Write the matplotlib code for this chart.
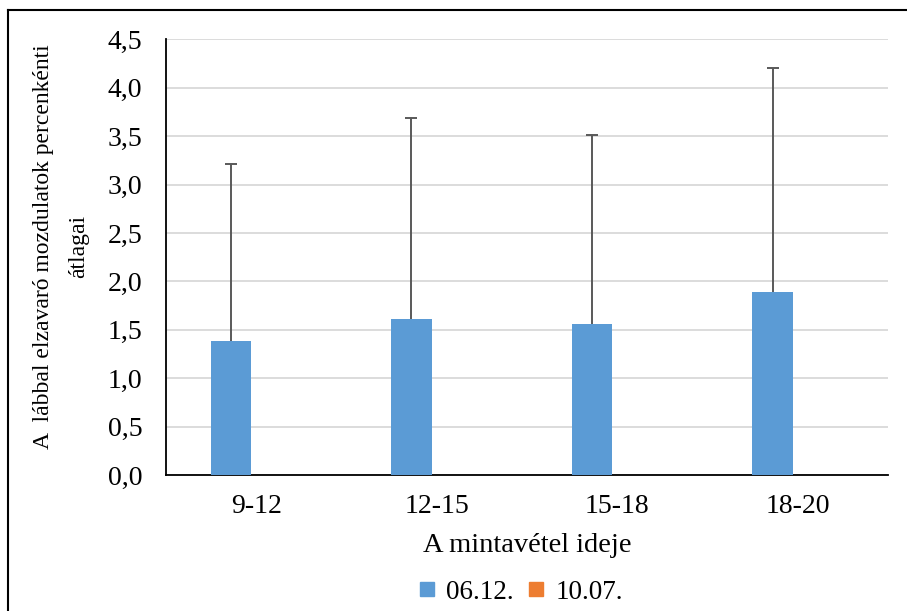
import numpy as np
import matplotlib.pyplot as plt
from matplotlib.lines import Line2D

plt.rcParams['font.family'] = ['Liberation Serif', 'DejaVu Serif']

# adatok
kategoriak = ['9-12', '12-15', '15-18', '18-20']
atlag_0612 = np.array([1.38, 1.615, 1.56, 1.888])
hiba_0612 = np.array([1.83, 2.075, 1.955, 2.32])
atlag_1007 = np.array([0, 0, 0, 0])
sorozatok = ['06.12.', '10.07.']

kek = '#5B9BD5'
narancs = '#ED7D31'

fig = plt.figure(figsize=(9.07, 6.11), dpi=100)
ax = fig.add_axes([0.183, 0.2226, 0.7961, 0.7128])

x = np.arange(len(kategoriak))
w = 0.222
ax.bar(x - 0.14, atlag_0612, width=w, color=kek, label=sorozatok[0], zorder=3)
# csak felfelé mutató hibasáv
ax.vlines(x - 0.14, atlag_0612, atlag_0612 + hiba_0612, color='#595959', linewidth=1.4, zorder=4)
ax.plot(x - 0.14, atlag_0612 + hiba_0612, linestyle='none', marker='_', markersize=9,
        markeredgewidth=1.4, color='#595959', zorder=4)
ax.bar(x + 0.11, atlag_1007, width=w, color=narancs, label=sorozatok[1], zorder=3)

ax.set_xlim(-0.5, 3.5)
ax.set_ylim(0, 4.5)
ax.set_yticks(np.arange(0, 4.51, 0.5))
ax.set_yticklabels([f'{v:.1f}'.replace('.', ',') for v in np.arange(0, 4.51, 0.5)])
ax.set_xticks(x)
ax.set_xticklabels(kategoriak)
ax.tick_params(axis='both', length=0, labelsize=20)
ax.tick_params(axis='y', pad=17)
ax.tick_params(axis='x', pad=14)
ax.grid(axis='y', color='#d9d9d9', linewidth=1.3, zorder=0)

for s in ['top', 'right']:
    ax.spines[s].set_visible(False)
ax.spines['left'].set_linewidth(1.3)
ax.spines['bottom'].set_linewidth(1.3)

ax.set_xlabel('A mintavétel ideje', fontsize=20.5, labelpad=10)
fig.text(0.067, 0.597, 'A  lábbal elzavaró mozdulatok percenkénti\nátlagai',
         rotation=90, ha='center', va='center', fontsize=17, linespacing=1.9)

handles = [Line2D([], [], marker='s', color='none', markerfacecolor=kek, markeredgecolor=kek, markersize=10),
           Line2D([], [], marker='s', color='none', markerfacecolor=narancs, markeredgecolor=narancs, markersize=10)]
fig.legend(handles, sorozatok, loc='center', bbox_to_anchor=(0.574, 0.031), ncol=2,
           frameon=False, fontsize=19.5, handlelength=0.6, handletextpad=0.4, columnspacing=0.55)

# keret
fig.add_artist(Line2D([8 / 907, 1], [1 - 10 / 611, 1 - 10 / 611], color='black', linewidth=1.5))
fig.add_artist(Line2D([8 / 907, 8 / 907], [0, 1 - 10 / 611], color='black', linewidth=1.5))

plt.savefig('out.png', dpi=100)
